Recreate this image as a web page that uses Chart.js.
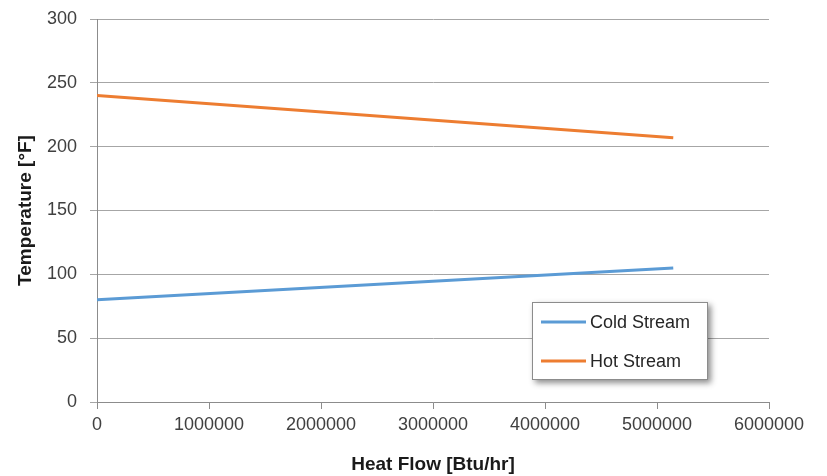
<!DOCTYPE html>
<html>
<head>
<meta charset="utf-8">
<script src="https://cdn.jsdelivr.net/npm/chart.js@4"></script>
<style>
  html, body { margin: 0; padding: 0; background: #ffffff; }
  #wrap { width: 827px; height: 476px; }
</style>
</head>
<body>
<div id="wrap"><canvas id="chart" width="827" height="476"></canvas></div>
<script>
// Heat flow (Btu/hr) at the ends of each stream
const heatFlow = [0, 5145000];
// Stream temperatures (°F)
const coldTemps = [80, 105];
const hotTemps = [240, 207];
const seriesNames = ['Cold Stream', 'Hot Stream'];

const FONT = "'Liberation Sans', Arial, sans-serif";
const BLUE = '#5B9BD5';
const ORANGE = '#ED7D31';

function toPoints(xs, ys) {
  return xs.map((x, i) => ({ x: x, y: ys[i] }));
}

// Boxed legend with drop shadow, sitting inside the plot area
const boxLegend = {
  id: 'boxLegend',
  afterDatasetsDraw(chart) {
    const ctx = chart.ctx;
    const area = chart.chartArea;
    const w = 176, h = 78;
    const x0 = area.right - 61 - w;
    const y0 = area.bottom - 22 - h;
    ctx.save();
    ctx.shadowColor = 'rgba(0,0,0,0.45)';
    ctx.shadowBlur = 6;
    ctx.shadowOffsetX = 3;
    ctx.shadowOffsetY = 3;
    ctx.fillStyle = '#ffffff';
    ctx.fillRect(x0, y0, w, h);
    ctx.restore();
    ctx.save();
    ctx.strokeStyle = '#8c8c8c';
    ctx.lineWidth = 1;
    ctx.strokeRect(x0 + 0.5, y0 + 0.5, w - 1, h - 1);
    ctx.font = '18px ' + FONT;
    ctx.textBaseline = 'middle';
    ctx.fillStyle = '#262626';
    chart.data.datasets.forEach((ds, i) => {
      const yy = y0 + 20 + i * 39;
      ctx.strokeStyle = ds.borderColor;
      ctx.lineWidth = 3;
      ctx.beginPath();
      ctx.moveTo(x0 + 9, yy);
      ctx.lineTo(x0 + 54, yy);
      ctx.stroke();
      ctx.fillText(ds.label, x0 + 58, yy + 1);
    });
    ctx.restore();
  }
};

new Chart(document.getElementById('chart'), {
  type: 'scatter',
  data: {
    datasets: [
      {
        label: seriesNames[0],
        data: toPoints(heatFlow, coldTemps),
        showLine: true,
        borderColor: BLUE,
        backgroundColor: BLUE,
        borderWidth: 3,
        pointRadius: 0,
        pointHoverRadius: 0
      },
      {
        label: seriesNames[1],
        data: toPoints(heatFlow, hotTemps),
        showLine: true,
        borderColor: ORANGE,
        backgroundColor: ORANGE,
        borderWidth: 3,
        pointRadius: 0,
        pointHoverRadius: 0
      }
    ]
  },
  options: {
    responsive: false,
    animation: false,
    events: [],
    layout: { padding: { left: 8, right: 58, top: 19, bottom: 0 } },
    plugins: {
      legend: { display: false },
      tooltip: { enabled: false }
    },
    scales: {
      x: {
        type: 'linear',
        min: 0,
        max: 6000000,
        afterFit(scale) {
          scale.height = 74;
          scale.paddingLeft = 0;
          scale.paddingRight = 0;
        },
        ticks: {
          stepSize: 1000000,
          color: '#404040',
          font: { family: FONT, size: 18 },
          padding: 5,
          maxRotation: 0,
          autoSkip: false,
          callback: v => String(v)
        },
        grid: {
          drawOnChartArea: false,
          drawTicks: true,
          tickLength: 7,
          color: '#8c8c8c'
        },
        border: { display: true, color: '#8c8c8c' },
        title: {
          display: true,
          text: 'Heat Flow [Btu/hr]',
          color: '#1a1a1a',
          font: { family: FONT, size: 19, weight: 'bold' },
          padding: { top: 0, bottom: 0 }
        }
      },
      y: {
        min: 0,
        max: 300,
        afterFit(scale) {
          scale.width = 89;
          scale.paddingTop = 0;
          scale.paddingBottom = 0;
        },
        ticks: {
          stepSize: 50,
          color: '#404040',
          font: { family: FONT, size: 18 },
          padding: 13
        },
        grid: {
          color: '#a6a6a6',
          drawTicks: true,
          tickLength: 7
        },
        border: { display: true, color: '#8c8c8c' },
        title: {
          display: true,
          text: 'Temperature [°F]',
          color: '#1a1a1a',
          font: { family: FONT, size: 19, weight: 'bold' },
          padding: { top: 6, bottom: 0 }
        }
      }
    }
  },
  plugins: [boxLegend]
});
</script>
</body>
</html>
